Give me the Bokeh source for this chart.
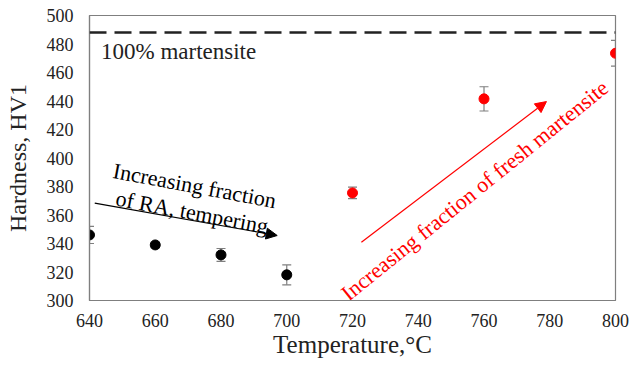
from bokeh.plotting import figure
from bokeh.models import (Range1d, FixedTicker, ColumnDataSource, Whisker, TeeHead,
                          Arrow, NormalHead, Span, Label)
from bokeh.embed import file_html
from bokeh.resources import INLINE
from bokeh.core.properties import value

# ---- data ----
temps_ra = [640, 660, 680, 700]
hard_ra = [346, 339, 332, 318]
err_ra = [6, 2, 4.5, 7]

temps_fm = [720, 760, 800]
hard_fm = [375.5, 441.5, 473.5]
err_fm = [4, 8.5, 9]

martensite_level = 488
x_ticks = [640, 660, 680, 700, 720, 740, 760, 780, 800]
y_ticks = [300, 320, 340, 360, 380, 400, 420, 440, 460, 480, 500]

FONT = "Liberation Serif"
GRAY = "#7f7f7f"

p = figure(width=630, height=368, output_backend="svg", toolbar_location=None,
           x_range=Range1d(640, 800), y_range=Range1d(300, 500),
           min_border_left=89, min_border_right=15, min_border_top=15, min_border_bottom=68)

p.xgrid.visible = False
p.ygrid.visible = False
p.outline_line_color = GRAY
p.outline_line_width = 1.2
p.background_fill_color = "white"
p.border_fill_color = "white"

for ax, ticks in ((p.xaxis, x_ticks), (p.yaxis, y_ticks)):
    ax.ticker = FixedTicker(ticks=ticks)
    ax.axis_line_color = GRAY
    ax.axis_line_width = 1.2
    ax.major_tick_line_color = None
    ax.minor_tick_line_color = None
    ax.major_tick_out = 0
    ax.major_tick_in = 0
    ax.minor_tick_out = 0
    ax.major_label_text_font = FONT
    ax.major_label_text_font_size = "18px"
    ax.major_label_text_color = "#222222"
    ax.axis_label_text_font = FONT
    ax.axis_label_text_font_style = "normal"
    ax.axis_label_text_color = "#222222"

p.xaxis.axis_label = "Temperature,°C"
p.yaxis.axis_label = "Hardness, HV1"
p.xaxis.axis_label_text_font_size = "25px"
p.yaxis.axis_label_text_font_size = "24px"
p.xaxis.major_label_standoff = 13
p.yaxis.major_label_standoff = 16
p.xaxis.axis_label_standoff = 1
p.yaxis.axis_label_standoff = 13

# dashed 100% martensite line
p.add_layout(Span(location=martensite_level, dimension="width", line_color="#222222",
                  line_width=2.5, line_dash="17 8"))
p.add_layout(Label(x=643.5, y=474.5, text="100% martensite", text_font=FONT,
                   text_font_size="23px", text_color="#222222",
                   text_baseline="middle", text_align="left"))

# error bars
src_ra = ColumnDataSource(dict(x=temps_ra, y=hard_ra,
                               lo=[h - e for h, e in zip(hard_ra, err_ra)],
                               hi=[h + e for h, e in zip(hard_ra, err_ra)]))
src_fm = ColumnDataSource(dict(x=temps_fm, y=hard_fm,
                               lo=[h - e for h, e in zip(hard_fm, err_fm)],
                               hi=[h + e for h, e in zip(hard_fm, err_fm)]))
for src in (src_ra, src_fm):
    w = Whisker(base="x", upper="hi", lower="lo", source=src, line_color=GRAY, line_width=1.2,
                upper_head=TeeHead(size=9, line_color=GRAY, line_width=1.2),
                lower_head=TeeHead(size=9, line_color=GRAY, line_width=1.2))
    p.add_layout(w)

p.scatter("x", "y", source=src_ra, size=10, color="black")
p.scatter("x", "y", source=src_fm, size=10, color="#ff0000")

# black annotation
p.add_layout(Arrow(x_start=641.6, y_start=368.3, x_end=697.1, y_end=345.6,
                   line_color="black", line_width=1.2,
                   end=NormalHead(size=11, fill_color="black", line_color="black")))
p.text(x=[672.0], y=[380.6], text=["Increasing fraction"], angle=-0.185,
       text_font=value(FONT), text_font_size="22px", text_color="black",
       text_align="center", text_baseline="middle")
p.text(x=[671.2], y=[362.0], text=["of RA, tempering"], angle=-0.185,
       text_font=value(FONT), text_font_size="22px", text_color="black",
       text_align="center", text_baseline="middle")

# red annotation
p.add_layout(Arrow(x_start=722.7, y_start=340.9, x_end=779.0, y_end=439.6,
                   line_color="#ff0000", line_width=1.2,
                   end=NormalHead(size=11, fill_color="#ff0000", line_color="#ff0000")))
p.text(x=[757.8], y=[378.5], text=["Increasing  fraction of fresh martensite"], angle=0.68,
       text_font=value(FONT), text_font_size="22px", text_color="#ff0000",
       text_align="center", text_baseline="middle")

open("out.html", "w").write(file_html(p, INLINE))
